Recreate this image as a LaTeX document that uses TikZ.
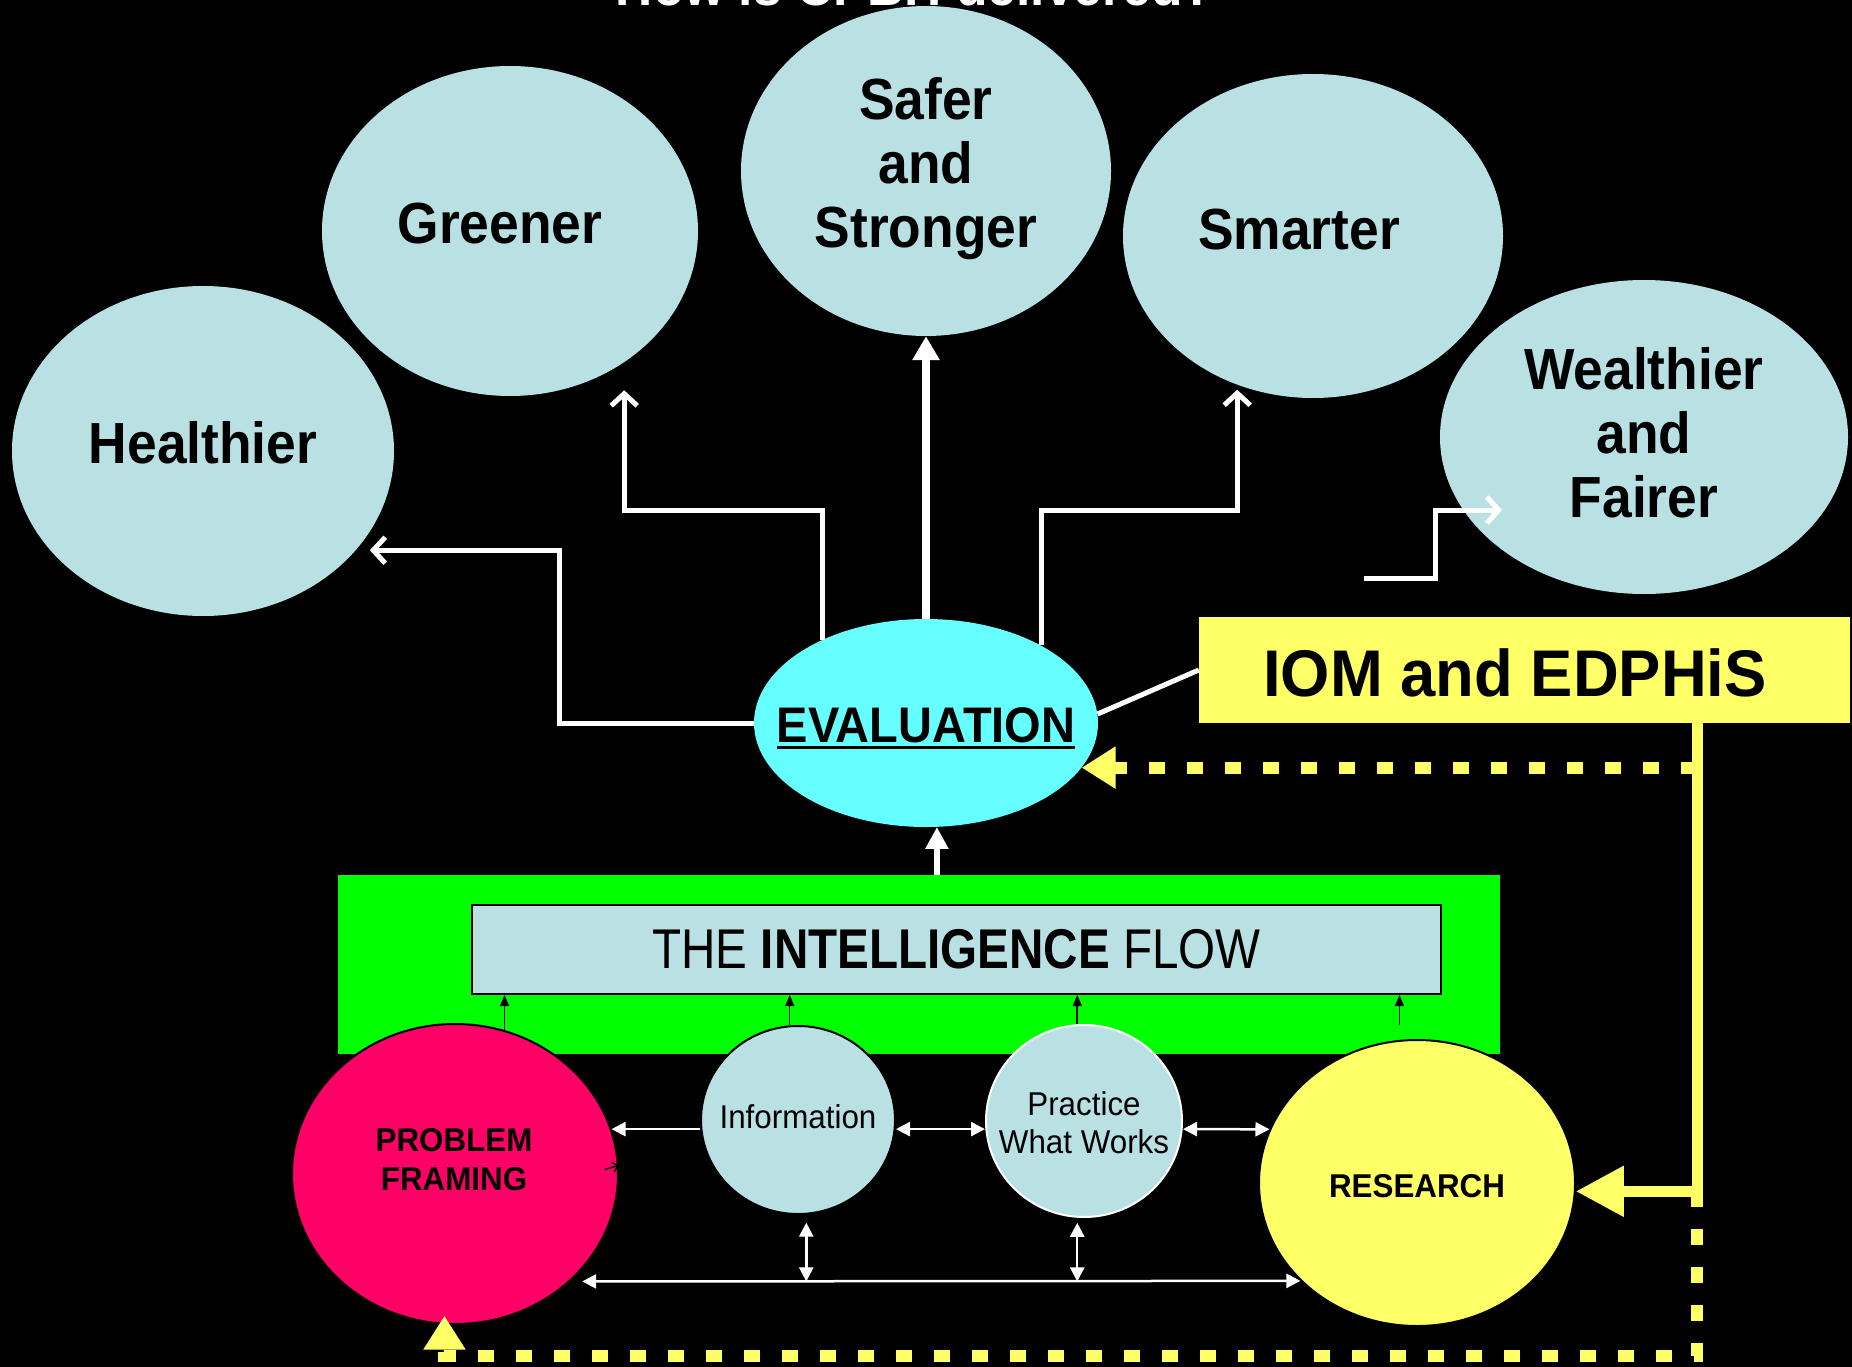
\documentclass[tikz,border=0pt]{standalone}
\usepackage{fontspec}
\setmainfont{Liberation Sans}
\usepackage{graphicx}
\usetikzlibrary{shapes.geometric,arrows.meta,calc}

\definecolor{pale}{RGB}{185,224,227}
\definecolor{evcyan}{RGB}{102,255,255}
\definecolor{ylw}{RGB}{255,255,102}
\definecolor{grn}{RGB}{0,255,0}
\definecolor{rose}{RGB}{255,0,102}

\newcommand\fsz[2]{\fontsize{#1}{#2}\selectfont}
\newcommand\narrow[2][0.92]{\scalebox{#1}[1]{#2}}
\newcommand\goaltext[1]{\scalebox{0.92}[1]{\begin{tabular}{@{}c@{}}#1\end{tabular}}}
\newcommand\smalltext[1]{\scalebox{0.95}[1]{\begin{tabular}{@{}c@{}}#1\end{tabular}}}

\begin{document}
\begin{tikzpicture}[x=1pt,y=-1pt,
  goal/.style={ellipse, fill=pale, inner sep=0pt},
  goaltxt/.style={font=\fsz{58}{64}\bfseries, inner sep=0pt},
  elbow/.style={draw=white, line width=5pt, -{Straight Barb[length=12pt,width=26pt]}},
  flowtxt/.style={inner sep=0pt},
  ydash/.style={draw=ylw, line width=12pt, dash pattern=on 16pt off 22pt,
                -{Triangle[length=34pt,width=40pt]}},
  wthin/.style={draw=white, line width=2.5pt},
  blkup/.style={draw=black, line width=1.5pt, -{Triangle[length=11pt,width=9pt]}},
  >={Triangle[length=14pt,width=14pt]}
]
\useasboundingbox (0,0) rectangle (1852,1367);
\fill[black] (0,0) rectangle (1852,1367);

% heading, mostly above the page edge
\node[anchor=base, text=white, font=\fsz{56}{60}\bfseries, inner sep=0pt] (ttl) at (915,6)
  {\narrow{How is CPBH delivered?}};

% outcome ellipses
\node[goal, minimum width=382pt, minimum height=330pt] (hl) at (203,451) {};
\node[goal, minimum width=376pt, minimum height=330pt] (gr) at (510,231) {};
\node[goal, minimum width=370pt, minimum height=330pt] (sf) at (926,171) {};
\node[goal, minimum width=380pt, minimum height=324pt] (sm) at (1313,236) {};
\node[goal, minimum width=408pt, minimum height=314pt] (we) at (1644,437) {};

\node[goaltxt] at (203,451) {\goaltext{Healthier}};
\node[goaltxt] at (500,231) {\goaltext{Greener}};
\node[goaltxt] at (926,171) {\goaltext{Safer\\and\\Stronger}};
\node[goaltxt] at (1299,237) {\goaltext{Smarter}};
\node[goaltxt] at (1644,441) {\goaltext{Wealthier\\and\\Fairer}};

% evaluation hub
\node[ellipse, fill=evcyan, inner sep=0pt, minimum width=344pt, minimum height=208pt] (ev) at (926,723) {};
\node[font=\fsz{50}{56}\bfseries, inner sep=0pt] (evt) at (926,728)
  {\vbox{\hbox{\narrow[0.94]{EVALUATION}}\kern3pt\hrule height 3pt}};

% IOM and EDPHiS banner
\node[rectangle, fill=ylw, inner sep=0pt, minimum width=651pt, minimum height=106pt] (io) at (1524.5,670) {};
\node[font=\fsz{66}{72}\bfseries, inner sep=0pt] at (1515,673) {\narrow[0.96]{IOM and EDPHiS}};

% connectors from the evaluation to the outcomes
\draw[white, line width=8pt, -{Triangle[length=24pt,width=26pt]}] (ev.north) -- (sf.south);
\draw[elbow, shorten >=14pt] (ev.west) -- ++(-194,0) |- (hl.-33);
\draw[elbow, shorten >=28pt] (ev.141) -- ++(0,-129) -| (gr.-49);
\draw[elbow, shorten >=5pt] (ev.34) -- ++(0,-135) -| (sm.-117);
\coordinate (wsrc) at (1364,578);
\draw[elbow, shorten >=-39pt] (wsrc) -- ++(71,0) |- (we.202);
\draw[white, line width=5pt] (io.west) -- (ev.3);

% intelligence flow panel
\node[rectangle, fill=grn, inner sep=0pt, minimum width=1162pt, minimum height=179pt] (gb) at (919,964.5) {};
\node[rectangle, draw=black, line width=2pt, fill=pale, inner sep=0pt,
      minimum width=969pt, minimum height=89pt, font=\fsz{56}{64}] (ib) at (956.5,949.5)
  {\scalebox{0.85}[1]{THE \textbf{INTELLIGENCE} FLOW}};
\draw[white, line width=6pt, -{Triangle[length=22pt,width=22pt]}] (ev.-84 |- gb.north) -- (ev.-84);

% sources
\node[ellipse, draw=black, line width=2pt, fill=rose, inner sep=0pt, minimum width=326pt, minimum height=300pt] (pf) at (455,1174) {};
\node[ellipse, draw=black, line width=2pt, fill=pale, inner sep=0pt, minimum width=194pt, minimum height=188pt] (in) at (798,1120) {};
\node[ellipse, draw=white, line width=2pt, fill=pale, inner sep=0pt, minimum width=196pt, minimum height=192pt] (pr) at (1084,1121) {};
\node[ellipse, draw=black, line width=2pt, fill=ylw, inner sep=0pt, minimum width=316pt, minimum height=286pt] (rs) at (1417,1183) {};

\node[flowtxt, font=\fsz{33}{39}\bfseries] at (454,1163) {\smalltext{PROBLEM\\FRAMING}};
\node[flowtxt, font=\fsz{33}{39}] at (798,1121) {\smalltext{Information}};
\node[flowtxt, font=\fsz{33}{38}] at (1084,1127) {\smalltext{Practice\\What Works}};
\node[flowtxt, font=\fsz{33}{39}\bfseries] at (1417,1190) {\smalltext{RESEARCH}};

% feeds into the intelligence flow
\draw[blkup] (pf.71) -- (pf.71 |- ib.south);
\draw[blkup] (in.95) -- (in.95 |- ib.south);
\draw[blkup] (pr.94) -- (pr.94 |- ib.south);
\draw[blkup] ($(rs.97)+(0,-15)$) -- (rs.97 |- ib.south);
\draw[black, line width=1.5pt, -{Straight Barb[length=5pt,width=10pt]}] ($(pf.3)+(-14,4)$) -- (pf.3);

% links between the sources
\draw[wthin, ->] (pf.16 -| in.west) -- (pf.16);
\draw[wthin, <->] (in.east |- pf.16) -- (pr.west |- pf.16);
\draw[wthin, <->] (pr.east |- pf.16) -- (rs.160);
\draw[wthin, <->, shorten <=12pt] (pf.-43) -- (rs.220);
\draw[wthin, <->] ($(in.-85)+(0,8)$) -- (in.-85 |- pf.-43);
\draw[wthin, <->] ($(pr.-94)+(0,5)$) -- (pr.-94 |- pf.-43);

% IOM and EDPHiS feedback routes
\coordinate (ydrop) at ($(io.south east)+(-153,0)$);
\draw[ydash] (ydrop |- ev.-16) -- (ev.-16);
\draw[ydash, shorten >=-9pt] (ydrop |- rs.-3) -- ++(0,165) -| (pf.-94);
\draw[ylw, line width=11pt, -{Triangle[length=48pt,width=48pt]}] (ydrop) |- (rs.-3);
\end{tikzpicture}
\end{document}
